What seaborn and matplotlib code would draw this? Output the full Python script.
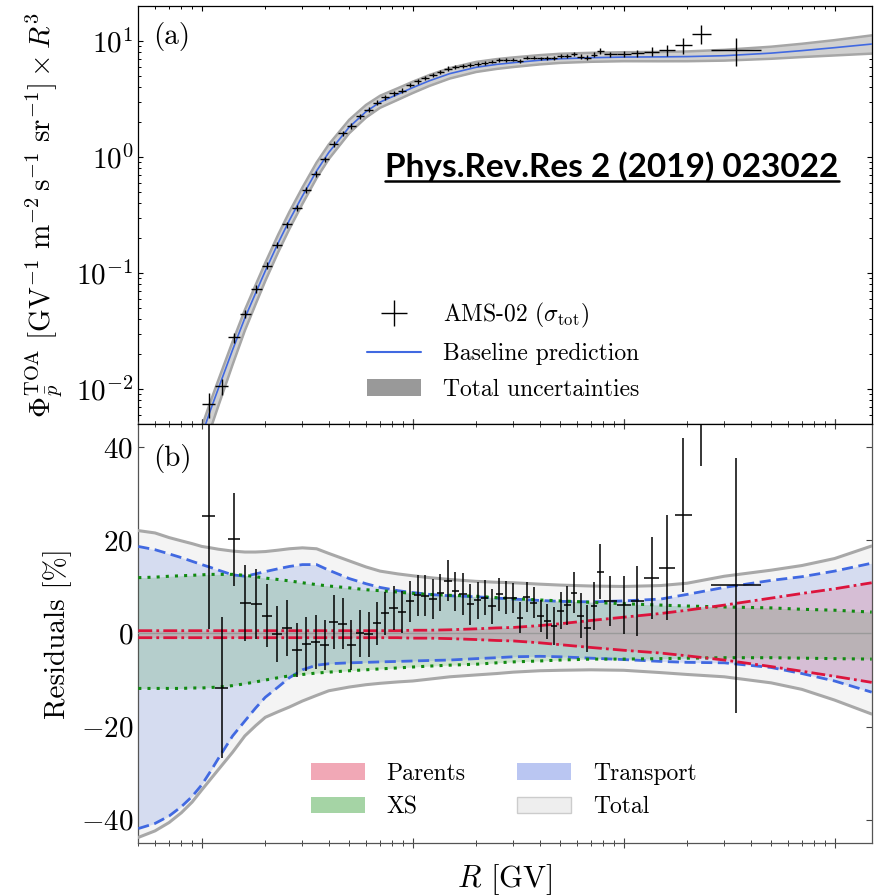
import numpy as np
import pandas as pd
import matplotlib
matplotlib.use("Agg")
import matplotlib.pyplot as plt
import seaborn as sns
from matplotlib.patches import Patch
from matplotlib.lines import Line2D
from matplotlib.ticker import NullLocator, FixedLocator

# ---------------- data ----------------
# AMS-02 antiproton rigidity bin edges [GV]
R_edges = [1.00, 1.16, 1.33, 1.51, 1.71, 1.92, 2.15, 2.40, 2.67, 2.97, 3.29, 3.64,
           4.02, 4.43, 4.88, 5.37, 5.90, 6.47, 7.09, 7.76, 8.48, 9.26, 10.1, 11.0,
           12.0, 13.0, 14.1, 15.3, 16.6, 18.0, 19.5, 21.1, 22.8, 24.7, 26.7, 28.8,
           31.1, 33.5, 36.1, 38.9, 41.9, 45.1, 48.5, 52.2, 56.1, 60.3, 64.8, 69.7,
           74.9, 80.5, 93.0, 108, 125, 147, 175, 211, 259, 450]

# flux x R^3 [GV^2 m^-2 s^-1 sr^-1]
flux_R3 = [0.00747, 0.01057, 0.0279, 0.0445, 0.0733, 0.1155, 0.174, 0.262, 0.366, 0.518,
           0.718, 0.952, 1.286, 1.596, 1.855, 2.234, 2.560, 2.940, 3.265, 3.552,
           3.73, 4.19, 4.48, 4.79, 5.11, 5.42, 5.78, 5.95, 6.10, 6.22,
           6.39, 6.51, 6.64, 6.82, 6.87, 6.87, 6.73, 7.19, 7.19, 7.10,
           7.10, 7.10, 7.43, 7.43, 7.69, 7.33, 7.19, 7.64, 8.21, 7.69,
           7.69, 7.83, 8.09, 8.32, 9.18, 11.55, 8.32]

# residuals w.r.t. baseline [%] and total data error [%]
residuals = [25.2, -11.6, 20.2, 6.5, 6.3, 3.8, -0.2, 1.1, -3.6, -2.3,
             -1.8, -2.4, 2.4, 2.1, -2.4, 0.0, -0.2, 2.2, 4.3, 5.4,
             4.6, 6.9, 8.2, 8.1, 7.5, 8.8, 11.3, 9.1, 8.4, 6.3,
             7.1, 7.7, 5.8, 8.4, 7.7, 7.7, 3.4, 7.9, 6.6, 3.8,
             2.6, 1.6, 4.9, 6.1, 8.8, 3.8, 1.1, 5.9, 13.3, 7.0,
             6.1, 7.0, 11.9, 14.1, 25.4, 55.0, 10.4]
res_err = [24.3, 15.2, 10.0, 8.2, 7.5, 6.8, 6.0, 6.0, 5.8, 5.8,
           5.8, 5.4, 5.8, 5.5, 5.4, 5.1, 4.8, 4.6, 4.6, 4.7,
           4.6, 4.4, 4.4, 4.4, 4.3, 4.0, 4.4, 4.2, 4.5, 4.4,
           4.0, 3.8, 3.7, 3.6, 3.5, 3.2, 3.3, 3.2, 3.3, 3.4,
           3.7, 4.0, 4.0, 4.2, 4.4, 4.8, 5.0, 5.1, 5.9, 5.3,
           6.3, 7.6, 8.8, 11.3, 16.5, 19.0, 27.4]

# rigidity grid for the prediction curves [GV]
R_grid = [0.5, 0.6, 0.7, 0.8, 0.9, 1.0, 1.1, 1.2, 1.4, 1.6, 1.8, 2.0, 2.3, 2.6, 3.0, 3.5,
          4.0, 5.0, 6.0, 7.0, 8.5, 10, 12, 15, 20, 25, 30, 40, 50, 70, 100, 150, 200,
          300, 500, 700, 1000, 1500]
# baseline prediction (flux x R^3), defined from R = 1 GV
R_model = [1.0, 1.1, 1.2, 1.4, 1.6, 1.8, 2.0, 2.3, 2.6, 3.0, 3.5, 4.0, 5.0, 6.0,
           7.0, 8.5, 10, 12, 15, 20, 25, 30, 40, 50, 70, 100, 150, 200, 300, 500,
           700, 1000, 1500]
baseline = [0.0040, 0.0066, 0.0102, 0.0218, 0.0409, 0.0672, 0.1042, 0.181, 0.284, 0.461,
            0.757, 1.094, 1.81, 2.455, 2.97, 3.47, 3.96, 4.54, 5.23, 5.93, 6.28, 6.50,
            6.82, 7.02, 7.17, 7.26, 7.29, 7.33, 7.46, 7.85, 8.25, 8.75, 9.40]

# relative uncertainty envelopes [%]
total_hi = [22.1, 21.6, 20.6, 19.9, 19.3, 18.7, 18.4, 18.1, 17.7, 17.5, 17.5, 17.6, 17.9,
            18.2, 18.4, 18.2, 17.2, 15.6, 14.3, 13.4, 12.8, 12.4, 12.0, 11.6, 11.2, 11.0,
            10.9, 10.6, 10.4, 10.2, 10.1, 10.3, 10.8, 12.3, 13.6, 14.6, 16.1, 18.8]
total_lo = [-43.8, -42.4, -40.6, -38.5, -36.2, -33.6, -31.3, -29.2, -25.5, -22.0, -19.8,
            -18.0, -16.8, -15.8, -14.5, -13.3, -12.3, -11.5, -11.0, -10.7, -10.4, -10.2,
            -9.8, -9.3, -8.9, -8.6, -8.3, -8.0, -7.9, -7.8, -7.9, -8.4, -8.8, -9.3,
            -10.6, -12.0, -14.3, -17.3]
transport_hi = [18.7, 18.0, 17.1, 16.3, 15.5, 14.8, 14.2, 13.6, 12.6, 12.3, 12.8, 13.3,
                13.9, 14.4, 14.8, 14.8, 13.6, 11.8, 10.7, 9.9, 9.2, 8.8, 8.4, 8.1, 7.9,
                7.6, 7.4, 7.1, 6.9, 6.8, 7.0, 7.4, 8.4, 9.9, 11.4, 12.2, 13.4, 15.1]
transport_lo = [-41.9, -40.8, -39.2, -37.2, -35.0, -32.5, -29.6, -26.8, -22.0, -18.8,
                -16.0, -13.7, -11.5, -9.5, -7.8, -6.8, -6.5, -6.3, -6.2, -6.1, -6.0,
                -5.9, -5.8, -5.7, -5.4, -5.2, -5.0, -4.9, -5.0, -5.3, -5.6, -6.0, -6.2,
                -6.3, -7.3, -8.6, -10.2, -12.6]
xs_hi = [12.0, 12.1, 12.3, 12.4, 12.5, 12.6, 12.7, 12.7, 12.7, 12.5, 12.2, 11.9, 11.6,
         11.3, 10.9, 10.5, 10.2, 9.8, 9.4, 9.2, 8.9, 8.6, 8.4, 8.2, 8.0, 7.7, 7.5, 7.2,
         7.0, 6.7, 6.4, 6.1, 5.9, 5.7, 5.5, 5.2, 5.0, 4.6]
xs_lo = [-11.8, -11.8, -11.8, -11.8, -11.7, -11.7, -11.6, -11.5, -11.2, -10.8, -10.4,
         -10.0, -9.5, -9.1, -8.8, -8.5, -8.3, -8.0, -7.8, -7.6, -7.4, -7.2, -7.0, -6.8,
         -6.6, -6.3, -6.1, -5.9, -5.7, -5.5, -5.5, -5.4, -5.3, -5.2, -5.2, -5.3, -5.4,
         -5.5]
parents_hi = [0.6, 0.6, 0.6, 0.6, 0.6, 0.6, 0.6, 0.6, 0.6, 0.6, 0.6, 0.6, 0.6, 0.6, 0.6,
              0.6, 0.6, 0.6, 0.6, 0.6, 0.6, 0.7, 0.7, 0.8, 1.0, 1.2, 1.3, 1.7, 2.1, 2.8,
              3.5, 4.3, 5.0, 6.1, 7.6, 8.6, 9.6, 10.9]
parents_lo = [-0.9, -0.9, -0.9, -0.9, -0.9, -0.9, -0.9, -0.9, -0.9, -0.9, -0.9, -0.9,
              -0.9, -0.9, -0.9, -0.9, -0.9, -0.9, -0.9, -0.9, -0.9, -1.0, -1.0, -1.1,
              -1.3, -1.5, -1.6, -2.0, -2.4, -3.0, -3.6, -4.2, -4.8, -5.7, -7.1, -8.1,
              -9.2, -10.5]

# ---------------- style ----------------
sns.set_theme(style="ticks")
plt.rcParams.update({
    "font.family": ["cmr10", "DejaVu Serif"],
    "mathtext.fontset": "cm",
    "axes.formatter.use_mathtext": True,
    "axes.unicode_minus": True,
    "axes.edgecolor": "black",
    "axes.linewidth": 0.9,
    "xtick.color": "black",
    "ytick.color": "black",
    "text.color": "black",
    "axes.labelcolor": "black",
})

BLUE = "#4169e1"
GREEN = "#118a11"
RED = "#dc143c"
GREY = "#a8a8a8"

edges = np.array(R_edges)
R_c = np.sqrt(edges[:-1] * edges[1:])
xerr = np.vstack([R_c - edges[:-1], edges[1:] - R_c])
flux = np.array(flux_R3)
rel = np.array(res_err)
Rg = np.array(R_grid)
Rm = np.array(R_model)
base = np.array(baseline)
in_model = Rg >= 1.0
tot_hi_m = np.array(total_hi)[in_model]
tot_lo_m = np.array(total_lo)[in_model]

fig = plt.figure(figsize=(8.77, 8.96), dpi=100)
ax1 = fig.add_axes([0.1577, 0.52679, 0.83626, 0.46651])
ax2 = fig.add_axes([0.1577, 0.05915, 0.83626, 0.46764], sharex=ax1)

# ---------------- panel (a) ----------------
ax1.set_xscale("log")
ax1.set_yscale("log")
band_lo = base * (1 + tot_lo_m / 100)
band_hi = base * (1 + tot_hi_m / 100)
ax1.fill_between(Rm, band_lo, band_hi, color="#d0d0d0", lw=0, zorder=1)
sns.lineplot(x=Rm, y=band_lo, ax=ax1, color="#a6a6a6", lw=1.8, estimator=None, sort=False, zorder=2)
sns.lineplot(x=Rm, y=band_hi, ax=ax1, color="#a6a6a6", lw=1.8, estimator=None, sort=False, zorder=2)
sns.lineplot(x=Rm, y=base, ax=ax1, color=BLUE, lw=1.2, estimator=None, sort=False, zorder=3)
ax1.errorbar(R_c, flux, yerr=flux * rel / 100, xerr=xerr, fmt="none",
             ecolor="black", elinewidth=1.0, capsize=0, zorder=4)
ax1.set_xlim(0.5, 1500)
ax1.set_ylim(5e-3, 20)
ax1.set_ylabel(r"$\Phi_{\bar{p}}^{\mathrm{TOA}}\ [\mathrm{GV}^{-1}\ \mathrm{m}^{-2}\,\mathrm{s}^{-1}\ \mathrm{sr}^{-1}]\times R^3$",
               fontsize=21)
ax1.yaxis.set_label_coords(-0.1, 0.5)
ax1.tick_params(which="both", direction="in", top=True, right=True,
                labelbottom=False, labelsize=21)
ax1.tick_params(which="major", length=3.8, width=0.8)
ax1.tick_params(which="minor", length=2.3, width=0.7)
ax1.text(0.02, 0.928, "(a)", transform=ax1.transAxes, fontsize=21, va="center", ha="left")

h1 = [Line2D([], [], color="black", marker="+", markersize=19, markeredgewidth=1.0, linestyle="none"),
      Line2D([], [], color=BLUE, lw=1.5),
      Patch(facecolor="#999999", edgecolor="none")]
l1 = [r"AMS-02 ($\sigma_{\mathrm{tot}}$)", "Baseline prediction", "Total uncertainties"]
ax1.legend(h1, l1, loc="upper left", bbox_to_anchor=(0.283, 0.345), frameon=False,
           fontsize=17, handlelength=2.3, handletextpad=0.9, labelspacing=0.56,
           borderpad=0.4)

title = ax1.text(0.646, 0.591, "Phys.Rev.Res 2 (2019) 023022", transform=ax1.transAxes,
                 fontsize=24, fontweight="bold", family=["Lato", "DejaVu Sans"],
                 ha="center", va="baseline")

# ---------------- panel (b) ----------------
ax2.fill_between(Rg, total_lo, total_hi, color="#f4f4f4", lw=0, zorder=1)
ax2.fill_between(Rg, transport_lo, transport_hi, color=BLUE, alpha=0.17, lw=0, zorder=2)
ax2.fill_between(Rg, xs_lo, xs_hi, color="green", alpha=0.15, lw=0, zorder=3)
ax2.fill_between(Rg, parents_lo, parents_hi, color=RED, alpha=0.15, lw=0, zorder=4)
for y in (total_lo, total_hi):
    sns.lineplot(x=Rg, y=y, ax=ax2, color=GREY, lw=2.2, estimator=None, sort=False, zorder=5)
for y in (transport_lo, transport_hi):
    sns.lineplot(x=Rg, y=y, ax=ax2, color=BLUE, lw=2.0, linestyle=(0, (4, 2)),
                 estimator=None, sort=False, zorder=6)
for y in (xs_lo, xs_hi):
    sns.lineplot(x=Rg, y=y, ax=ax2, color=GREEN, lw=2.2, linestyle=(0, (1, 2)),
                 estimator=None, sort=False, zorder=6)
for y in (parents_lo, parents_hi):
    sns.lineplot(x=Rg, y=y, ax=ax2, color=RED, lw=2.0, linestyle=(0, (5, 1.5, 1, 1.5)),
                 estimator=None, sort=False, zorder=7)
ax2.axhline(0, color="#9a9a9a", lw=1.0, zorder=7.5)
ax2.errorbar(R_c, residuals, yerr=res_err, xerr=xerr, fmt="none", ecolor="black",
             elinewidth=1.1, capsize=0, zorder=8)
ax2.set_ylim(-45, 45)
ax2.yaxis.set_major_locator(FixedLocator([-40, -20, 0, 20, 40]))
ax2.yaxis.set_minor_locator(NullLocator())
ax2.set_ylabel("Residuals [%]", fontsize=21)
ax2.yaxis.set_label_coords(-0.09, 0.5)
ax2.set_xlabel(r"$R$ [GV]", fontsize=22)
ax2.xaxis.set_label_coords(0.5, -0.045)
ax2.tick_params(axis="x", which="both", direction="inout", top=True, labelbottom=False,
                color="#444444")
ax2.tick_params(axis="x", which="major", length=7, width=0.8)
ax2.tick_params(axis="x", which="minor", length=4, width=0.7)
ax2.tick_params(axis="y", which="both", direction="in", right=True, length=4.2,
                width=0.8, labelsize=21, color="#444444")
for s in ("left", "right", "bottom"):
    ax2.spines[s].set_color("#555555")
ax2.text(0.02, 0.917, "(b)", transform=ax2.transAxes, fontsize=21, va="center", ha="left")

h2 = [Patch(facecolor="#f1a8b6", edgecolor="none"),
      Patch(facecolor="#a5d4a5", edgecolor="none"),
      Patch(facecolor="#bac6f2", edgecolor="none"),
      Patch(facecolor="#eeeeee", edgecolor="#cccccc")]
l2 = ["Parents", "XS", "Transport", "Total"]
ax2.legend(h2, l2, loc="upper left", bbox_to_anchor=(0.206, 0.243), ncol=2, frameon=False,
           fontsize=17, handlelength=2.3, handletextpad=0.9, labelspacing=0.5,
           columnspacing=2.2, borderpad=0.4)

# underline for the reference text
fig.canvas.draw()
bb = title.get_window_extent()
inv = fig.transFigure.inverted()
(x0, y0), (x1, _) = inv.transform([[bb.x0, bb.y0], [bb.x1, bb.y1]])
fig.add_artist(Line2D([x0, x1], [y0 + 0.001, y0 + 0.001], transform=fig.transFigure,
                      color="black", lw=1.8))

fig.savefig("out.png", dpi=100)
